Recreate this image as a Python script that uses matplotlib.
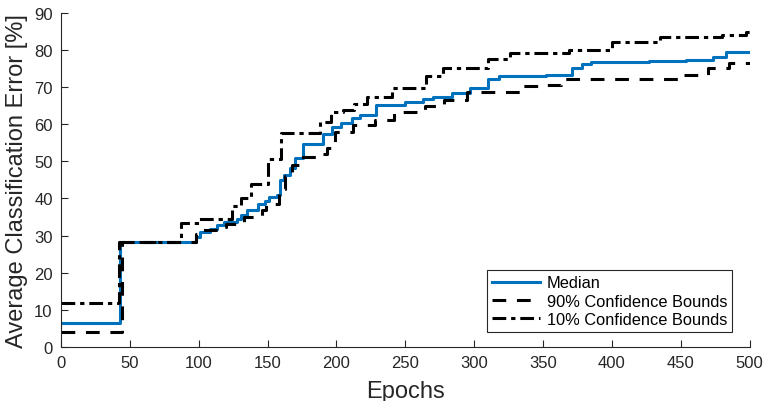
import matplotlib
matplotlib.use("Agg")
import matplotlib.pyplot as plt

plt.rcParams['font.family'] = ['Liberation Sans', 'DejaVu Sans']

# Median
med_x = [0, 41, 43, 96, 98, 101, 108, 113, 118, 128, 131, 135, 143, 148, 151, 157, 159, 162, 166, 170, 176, 190, 197, 203, 211, 217, 229, 250, 263, 270, 284, 297, 310, 318, 352, 371, 378, 385, 427, 454, 473, 483, 500]
med_y = [6.5, 6.5, 28.2, 28.2, 29.5, 31.0, 31.8, 32.8, 33.6, 34.5, 35.4, 37.0, 38.6, 39.4, 40.4, 41.0, 44.9, 46.2, 48.3, 51.0, 54.7, 57.4, 59.3, 60.3, 61.8, 62.4, 65.3, 66.0, 66.7, 67.4, 68.5, 69.8, 72.3, 72.9, 73.4, 75.1, 76.2, 76.7, 77.0, 77.3, 78.2, 79.6, 79.6]

# 90% confidence bound (lower)
b90_x = [0, 42, 44, 98, 102, 116, 120, 133, 146, 149, 158, 163, 168, 174, 188, 193, 199, 212, 228, 242, 264, 278, 295, 333, 348, 363, 452, 470, 485, 500]
b90_y = [4.0, 4.0, 28.2, 30.5, 31.4, 32.3, 33.2, 35.0, 37.0, 38.5, 42.5, 46.0, 49.0, 51.2, 52.0, 53.6, 57.9, 59.7, 61.1, 63.3, 65.0, 66.5, 68.8, 70.4, 70.7, 72.1, 73.2, 75.1, 76.6, 76.6]

# 10% confidence bound (upper)
b10_x = [0, 40, 42, 87, 100, 124, 131, 138, 150, 160, 188, 196, 205, 213, 222, 240, 265, 277, 310, 326, 369, 400, 435, 480, 497, 500]
b10_y = [11.8, 11.8, 28.2, 33.3, 34.5, 38.0, 40.0, 44.0, 50.7, 57.7, 60.5, 63.3, 63.8, 65.5, 67.4, 69.7, 73.1, 75.3, 77.5, 79.3, 80.0, 82.3, 83.6, 84.1, 85.0, 85.0]

xticks = list(range(0, 501, 50))
yticks = list(range(0, 91, 10))

fig = plt.figure(figsize=(7.65, 4.02), dpi=100)
ax = fig.add_axes([0.0797, 0.135, 0.9003, 0.830])

axcol = '#262626'
ax.plot(med_x, med_y, drawstyle='steps-post', color='#0072BD', lw=2.2, label='Median')
ax.plot(b90_x, b90_y, drawstyle='steps-post', color='black', lw=2.2, dashes=(4.5, 3.5), label='90% Confidence Bounds')
ax.plot(b10_x, b10_y, drawstyle='steps-post', color='black', lw=2.2, dashes=(4.5, 1.6, 1.4, 1.6), label='10% Confidence Bounds')

ax.set_xlim(0, 500)
ax.set_ylim(0, 90)
ax.set_xticks(xticks)
ax.set_yticks(yticks)
ax.spines['top'].set_visible(False)
ax.spines['right'].set_visible(False)
for s in ['left', 'bottom']:
    ax.spines[s].set_color(axcol)
    ax.spines[s].set_linewidth(0.8)
ax.tick_params(direction='in', length=5, width=0.8, colors=axcol, labelsize=12, pad=6)
ax.set_xlabel('Epochs', fontsize=17, color=axcol, labelpad=7)
ax.set_ylabel('Average Classification Error [%]', fontsize=17, color=axcol, labelpad=4)

leg = ax.legend(loc='lower right', bbox_to_anchor=(0.975, 0.045), fontsize=11.8, frameon=True,
                fancybox=False, framealpha=1, edgecolor=axcol, borderpad=0.3,
                labelspacing=0.2, handlelength=2.9, handletextpad=0.45, borderaxespad=0)
leg.get_frame().set_linewidth(0.8)
for t in leg.get_texts():
    t.set_color('black')

fig.savefig('out.png', dpi=100)
